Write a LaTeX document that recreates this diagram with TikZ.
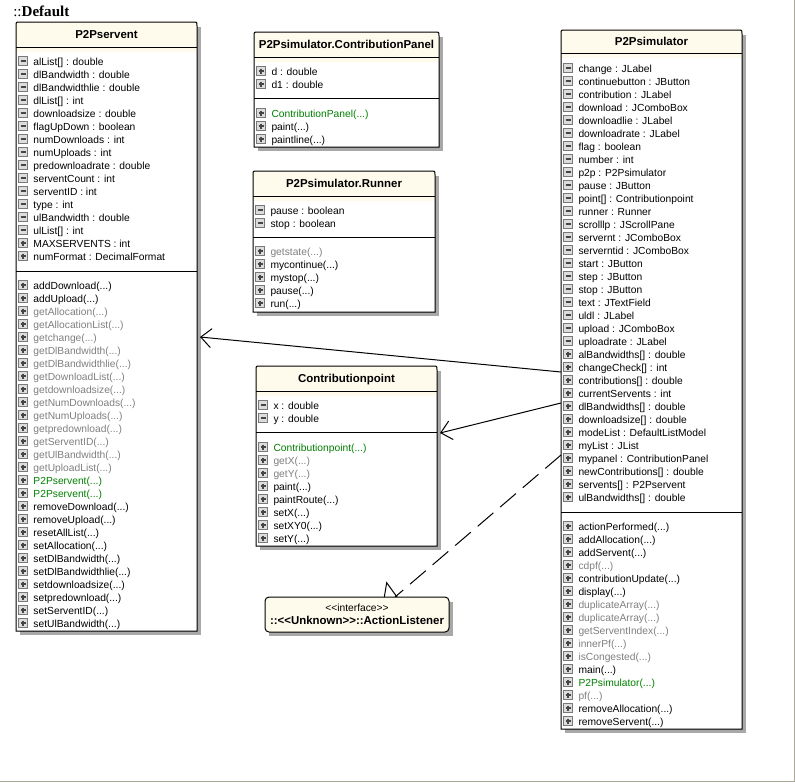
\documentclass[tikz,border=0pt]{standalone}
\usepackage{fontspec}
\newfontfamily\mfont{Liberation Sans}
\newfontfamily\dfont{Liberation Serif}
\usetikzlibrary{arrows.meta}
\definecolor{ck}{RGB}{0,0,0}
\definecolor{cg}{RGB}{128,128,128}
\definecolor{cG}{RGB}{0,128,0}
\definecolor{headc}{RGB}{255,251,236}
\definecolor{shadowc}{RGB}{168,168,168}
\definecolor{framec}{RGB}{172,168,153}
\definecolor{iconb}{RGB}{120,120,120}
\definecolor{iconf}{RGB}{220,220,220}
\definecolor{icons}{RGB}{70,70,70}
\newcommand\dd{(.{}.{}.)}
\tikzset{
  thinl/.style={line width=0.75pt, draw=black},
  mtext/.style={anchor=base west, inner sep=0pt, outer sep=0pt, font=\mfont\fontsize{7.7pt}{9pt}\selectfont},
  titletext/.style={anchor=base, inner sep=0pt, outer sep=0pt, font=\mfont\bfseries\fontsize{8.6pt}{10pt}\selectfont},
  iconbox/.style={draw=iconb, fill=iconf, line width=0.8pt},
  iconsign/.style={draw=icons, line width=1.3pt},
  assoc/.style={line width=0.75pt, -{Straight Barb[length=7.9pt,width=14.25pt]}},
  realz/.style={line width=0.75pt, dash pattern=on 15.5pt off 6.75pt},
}
% #1 left x, #2 first row y, #3 list icon/colour/text
\newcommand\members[3]{%
  \foreach \ic/\cl/\tx [count=\ii from 0] in {#3}{%
    \draw[iconbox] ({#1+2.5},{#2+13*\ii-4.5}) rectangle ++(9,9);
    \draw[iconsign] ({#1+4.5},{#2+13*\ii}) -- ++(5,0);
    \if\ic p\draw[iconsign] ({#1+7},{#2+13*\ii-2.5}) -- ++(0,5);\fi
    \node[mtext,text=c\cl] at ({#1+17.5},{#2+13*\ii+4}) {\tx};
  }}
% #1 name #2 L #3 T #4 R #5 B #6 sep1 #7 sep2 #8 title
\newcommand\classbox[8]{%
  \fill[shadowc] ({#2+4},{#3+5}) rectangle ({#4+4},{#5+4});
  \node[inner sep=0pt, outer sep=0pt, minimum width={(#4-#2)*0.75pt}, minimum height={(#5-#3)*0.75pt}, fill=white] (#1) at ({(#2+#4)/2},{(#3+#5)/2}) {};
  \fill[headc] (#2,{#6+5}) -- (#2,{#3+4}) .. controls (#2,#3) .. ({#2+4},#3) -- ({#4-4},#3) .. controls (#4,#3) .. (#4,{#3+4}) -- (#4,{#6+5}) -- cycle;
  \draw[thinl] (#2,#6) -- (#4,#6) (#2,#7) -- (#4,#7);
  \draw[thinl] (#2,#5) -- (#2,{#3+4}) .. controls (#2,#3) .. ({#2+4},#3) -- ({#4-4},#3) .. controls (#4,#3) .. (#4,{#3+4}) -- (#4,#5) -- cycle;
  \node[titletext] at ({(#2+#4)/2},{(#3+#6)/2+4}) {#8};
}
\begin{document}
\begin{tikzpicture}[x=0.75pt,y=-0.75pt]
\useasboundingbox (0,0) rectangle (795,783);
\draw[framec, line width=0.75pt] (794.5,0) -- (794.5,781.5) -- (0,781.5);
\node[anchor=base west, inner sep=0pt, font=\dfont\fontsize{11.3pt}{12pt}\selectfont] (deflabel) at (13,16.5) {::\textbf{Default}};

% P2Pservent
\classbox{serv}{16}{22}{197}{631}{47}{271}{P2Pservent}
\members{16}{61}{m/k/alList[] : double, m/k/dlBandwidth : double, m/k/dlBandwidthlie : double,
 m/k/dlList[] : int, m/k/downloadsize : double, m/k/flagUpDown : boolean, m/k/numDownloads : int,
 m/k/numUploads : int, m/k/predownloadrate : double, m/k/serventCount : int, m/k/serventID : int,
 m/k/type : int, m/k/ulBandwidth : double, m/k/ulList[] : int, p/k/MAXSERVENTS : int,
 p/k/numFormat : DecimalFormat}
\members{16}{285}{p/k/addDownload\dd, p/k/addUpload\dd, p/g/getAllocation\dd,
 p/g/getAllocationList\dd, p/g/getchange\dd, p/g/getDlBandwidth\dd, p/g/getDlBandwidthlie\dd,
 p/g/getDownloadList\dd, p/g/getdownloadsize\dd, p/g/getNumDownloads\dd, p/g/getNumUploads\dd,
 p/g/getpredownload\dd, p/g/getServentID\dd, p/g/getUlBandwidth\dd, p/g/getUploadList\dd,
 p/G/P2Pservent\dd, p/G/P2Pservent\dd, p/k/removeDownload\dd, p/k/removeUpload\dd,
 p/k/resetAllList\dd, p/k/setAllocation\dd, p/k/setDlBandwidth\dd, p/k/setDlBandwidthlie\dd,
 p/k/setdownloadsize\dd, p/k/setpredownload\dd, p/k/setServentID\dd, p/k/setUlBandwidth\dd}

% ContributionPanel
\classbox{cpanel}{254}{32}{439}{147}{57}{98}{P2Psimulator.ContributionPanel}
\members{254}{71}{p/k/d : double, p/k/d1 : double}
\members{254}{113}{p/G/ContributionPanel\dd, p/k/paint\dd, p/k/paintline\dd}

% Runner
\classbox{runner}{253}{171}{435}{312}{196}{237}{P2Psimulator.Runner}
\members{253}{210}{m/k/pause : boolean, m/k/stop : boolean}
\members{253}{251}{p/g/getstate\dd, p/k/mycontinue\dd, p/k/mystop\dd, p/k/pause\dd, p/k/run\dd}

% Contributionpoint
\classbox{cpoint}{256}{366}{437}{546}{391}{432}{Contributionpoint}
\members{256}{405}{m/k/x : double, m/k/y : double}
\members{256}{447}{p/G/Contributionpoint\dd, p/g/getX\dd, p/g/getY\dd, p/k/paint\dd,
 p/k/paintRoute\dd, p/k/setX\dd, p/k/setXY0\dd, p/k/setY\dd}

% P2Psimulator
\classbox{sim}{561}{30}{742}{729}{53}{512}{P2Psimulator}
\members{561}{68}{m/k/change : JLabel, m/k/continuebutton : JButton, m/k/contribution : JLabel,
 m/k/download : JComboBox, m/k/downloadlie : JLabel, m/k/downloadrate : JLabel, m/k/flag : boolean,
 m/k/number : int, m/k/p2p : P2Psimulator, m/k/pause : JButton, m/k/point[] : Contributionpoint,
 m/k/runner : Runner, m/k/scrolllp : JScrollPane, m/k/servernt : JComboBox, m/k/serverntid : JComboBox,
 m/k/start : JButton, m/k/step : JButton, m/k/stop : JButton, m/k/text : JTextField, m/k/uldl : JLabel,
 m/k/upload : JComboBox, m/k/uploadrate : JLabel, p/k/alBandwidths[] : double, p/k/changeCheck[] : int,
 p/k/contributions[] : double, p/k/currentServents : int, p/k/dlBandwidths[] : double,
 p/k/downloadsize[] : double, p/k/modeList : DefaultListModel, p/k/myList : JList,
 p/k/mypanel : ContributionPanel, p/k/newContributions[] : double, p/k/servents[] : P2Pservent,
 p/k/ulBandwidths[] : double}
\members{561}{526}{p/k/actionPerformed\dd, p/k/addAllocation\dd, p/k/addServent\dd, p/g/cdpf\dd,
 p/k/contributionUpdate\dd, p/k/display\dd, p/g/duplicateArray\dd, p/g/duplicateArray\dd,
 p/g/getServentIndex\dd, p/g/innerPf\dd, p/g/isCongested\dd, p/k/main\dd, p/G/P2Psimulator\dd,
 p/g/pf\dd, p/k/removeAllocation\dd, p/k/removeServent\dd}

% connectors
\coordinate (simA) at (561,372);
\coordinate (servA) at (200,337);
\draw[assoc] (simA) -- (servA);
\coordinate (simB) at (561,403);
\coordinate (cpA) at (440,433);
\draw[assoc] (simB) -- (cpA);
\coordinate (simC) at (561,455);
\coordinate (ifA) at (395,597);
\draw[realz] (simC) -- (ifA);
\draw[thinl] (384.3,597) -- (386.7,582.7) -- (397,597);

% interface
\fill[shadowc] (269,602) rectangle (453,636);
\node[draw=black, line width=0.75pt, fill=headc, rounded corners=3pt, inner sep=0pt, outer sep=0pt,
  minimum width={184*0.75pt}, minimum height={35*0.75pt}] (iface) at (357,614.5) {};
\node[mtext, anchor=base] (ifst) at (357,611) {<\kern0pt<interface>\kern0pt>};
\node[titletext] (ifname) at (357,624) {::<\kern0pt<Unknown>\kern0pt>::ActionListener};
\end{tikzpicture}
\end{document}
